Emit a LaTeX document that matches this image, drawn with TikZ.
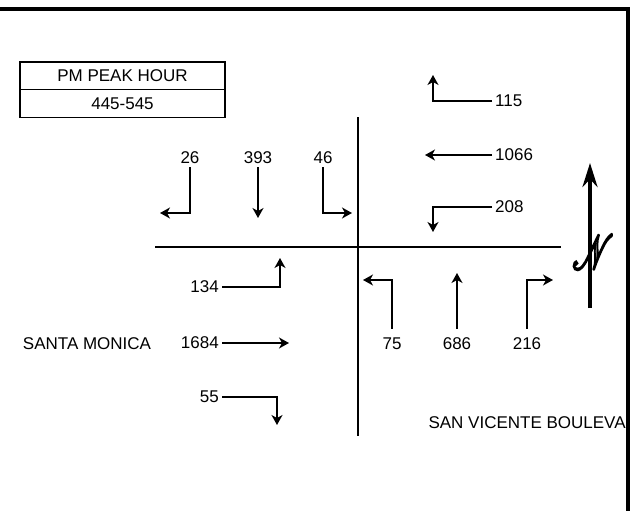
\documentclass[tikz,border=0pt]{standalone}
\usepackage{fontspec}
\setmainfont{Liberation Sans}
\usepackage{mathrsfs}
\usetikzlibrary{arrows.meta, positioning}
% outlined glyphs: fill + stroke text render mode
\newcommand{\outlined}[1]{\special{pdf:literal direct q 2 Tr 0.9 w 0 G}#1\special{pdf:literal direct Q}}
\tikzset{
  every picture/.style={x=1pt, y=-1pt, font=\fontsize{17}{20}\selectfont},
  mv/.style={draw=black, line width=1.4pt, -{Stealth[length=10pt, width=11pt, inset=3pt]}},
  street/.style={line width=2pt},
  vol/.style={inner sep=3pt},
  hdr/.style={draw, line width=1.5pt, outer sep=0pt, inner sep=0pt, minimum width=205pt, minimum height=27.5pt},
}

\begin{document}
\begin{tikzpicture}
  \useasboundingbox (0,0) rectangle (643,511);
  % frame
  \draw[line width=4.5pt] (0,9) -| (628,511);
  % peak hour table
  \node[hdr] (peak) at (122.5,76) {PM PEAK HOUR};
  \node[hdr, below=0pt of peak] (period) {445-545};
  % streets
  \coordinate (nEnd) at (358,117);
  \coordinate (sEnd) at (358,436);
  \coordinate (wEnd) at (155,247);
  \coordinate (eEnd) at (561,247);
  \draw[street] (nEnd) -- (sEnd);
  \draw[street] (wEnd) -- (eEnd);
  % southbound
  \node[vol] (sbL) at (190,158) {26};
  \node[vol] (sbT) at (258,158) {393};
  \node[vol] (sbR) at (323,158) {46};
  \coordinate (sbLtip) at (160,213);
  \coordinate (sbTtip) at (258,218);
  \coordinate (sbRtip) at (352,213);
  \draw[mv] (sbL.south) |- (sbLtip);
  \draw[mv] (sbT.south) -- (sbTtip);
  \draw[mv] (sbR.south) |- (sbRtip);
  % westbound
  \node[vol, anchor=west] (wbR) at (492,101) {115};
  \node[vol, anchor=west] (wbT) at (492,155) {1066};
  \node[vol, anchor=west] (wbL) at (492,207) {208};
  \coordinate (wbRtip) at (433,75);
  \coordinate (wbTtip) at (425,155);
  \coordinate (wbLtip) at (433,232);
  \draw[mv] (wbR.west) -| (wbRtip);
  \draw[mv] (wbT.west) -- (wbTtip);
  \draw[mv] (wbL.west) -| (wbLtip);
  % eastbound
  \node[vol, anchor=east] (ebL) at (222,287) {134};
  \node[vol, anchor=east] (ebT) at (222,343) {1684};
  \node[vol, anchor=east] (ebR) at (222,397) {55};
  \coordinate (ebLtip) at (280,258);
  \coordinate (ebTtip) at (289,343);
  \coordinate (ebRtip) at (277,425);
  \draw[mv] (ebL.east) -| (ebLtip);
  \draw[mv] (ebT.east) -- (ebTtip);
  \draw[mv] (ebR.east) -| (ebRtip);
  % northbound
  \node[vol] (nbL) at (392,344) {75};
  \node[vol] (nbT) at (457,344) {686};
  \node[vol] (nbR) at (527,344) {216};
  \coordinate (nbLtip) at (363,280);
  \coordinate (nbTtip) at (457,273);
  \coordinate (nbRtip) at (553,280);
  \draw[mv] ([yshift=6pt]nbL.north) |- (nbLtip);
  \draw[mv] ([yshift=6pt]nbT.north) -- (nbTtip);
  \draw[mv] ([yshift=6pt]nbR.north) |- (nbRtip);
  % street names
  \node (smon) at (87,344) {SANTA MONICA};
  \node[anchor=west] (svic) at (425,423) {SAN VICENTE BOULEVA};
  % north arrow
  \coordinate (nBase) at (590,308);
  \coordinate (nTip) at (590,163);
  \draw[line width=4pt, -{Stealth[length=24pt, width=15pt]}] (nBase) -- (nTip);
  \node[text=gray] (north) at (593,252) {\outlined{\scalebox{1.9}[2.8]{$\mathscr{N}$}}};
\end{tikzpicture}
\end{document}
